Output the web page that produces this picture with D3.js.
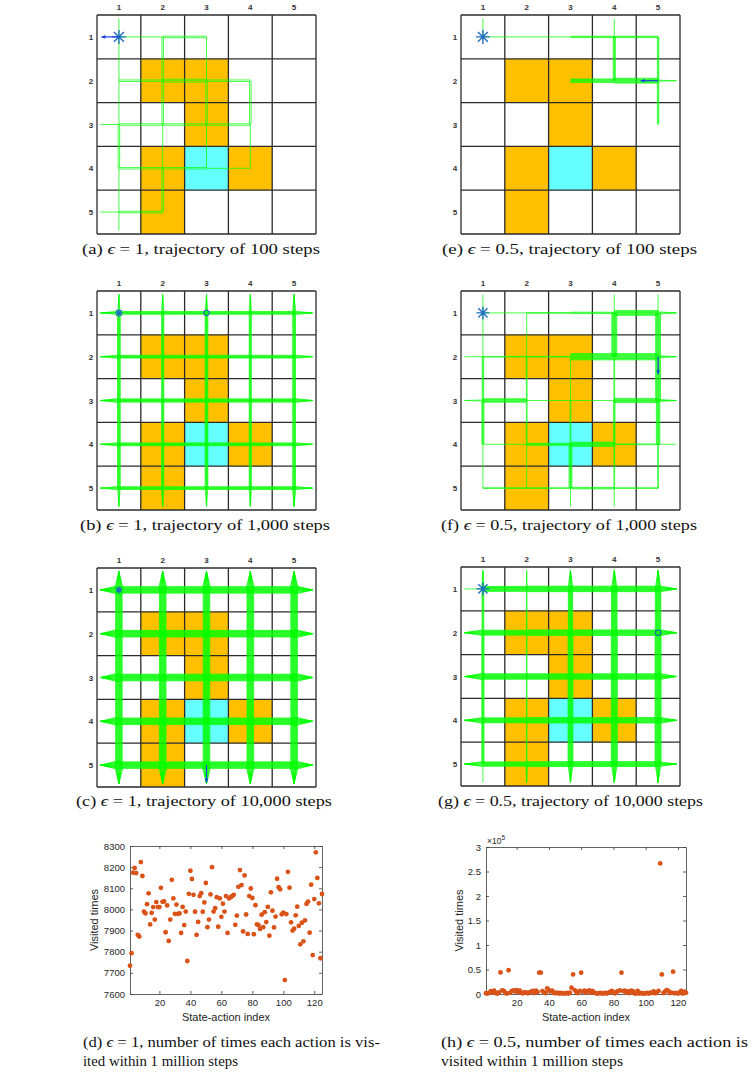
<!DOCTYPE html>
<html>
<head>
<meta charset="utf-8">
<script src="https://cdn.jsdelivr.net/npm/d3@7"></script>
<style>
  body { margin: 0; background: #fff; }
  text { font-family: "Liberation Sans", Arial, sans-serif; }
  .cap { font-family: "Liberation Serif", "DejaVu Serif", serif; font-size: 14.5px; fill: #111; }
</style>
</head>
<body>
<div id="container"></div>
<script>
// ---- grid world layout (5x5) ----
const forbidden = [[2, 2], [2, 3], [3, 3], [4, 2], [4, 4], [5, 2]];
const target = [4, 3];
const gridLabels = ['1', '2', '3', '4', '5'];

// trajectory weights (number of overlapping strokes)
// rows: [left bounce, c1-c2, c2-c3, c3-c4, c4-c5, right bounce]
// cols: [top bounce, r1-r2, r2-r3, r3-r4, r4-r5, bottom bounce]
const rowsA = [[0, 1, 2, 0, 0, 0], [0, 2, 3, 2, 0, 0], [1, 2, 2, 2, 0, 0], [0, 2, 2, 1, 0, 0], [1, 2, 0, 0, 0, 0]];
const colsA = [[1, 1, 1, 2, 1, 1], [0, 2, 2, 1, 2, 0], [0, 1, 2, 1, 0, 0], [0, 0, 2, 1, 0, 0], [0, 0, 0, 0, 0, 0]];

const rowsB = [[5, 6, 6, 6, 6, 5], [5, 6, 6, 6, 6, 5], [6, 7, 7, 7, 7, 6], [5, 6, 6, 6, 6, 5], [5, 6, 6, 6, 6, 5]];
const colsB = [[4, 6, 6, 6, 6, 4], [4, 5, 5, 5, 5, 4], [4, 6, 6, 6, 6, 4], [4, 5, 5, 5, 5, 4], [5, 6, 6, 6, 6, 5]];

const rowsC = [[12, 13, 13, 13, 13, 12], [12, 13, 13, 13, 13, 12], [12, 13, 13, 13, 13, 12], [12, 13, 13, 13, 13, 12], [12, 13, 13, 13, 13, 12]];
const colsC = [[12, 13, 13, 13, 13, 12], [12, 13, 13, 13, 13, 12], [12, 13, 13, 13, 13, 12], [12, 13, 13, 13, 13, 12], [12, 13, 13, 13, 13, 12]];

const rowsE = [[0, 1, 1, 3, 3, 0], [0, 0, 0, 6, 8, 2], [0, 0, 0, 0, 0, 0], [0, 0, 0, 0, 0, 0], [0, 0, 0, 0, 0, 0]];
const colsE = [[1, 0, 0, 0, 0, 0], [0, 0, 0, 0, 0, 0], [0, 0, 0, 0, 0, 0], [1, 4, 0, 0, 0, 0], [0, 3, 3, 0, 0, 0]];

const rowsF = [[0, 1, 2, 3, 8, 3], [1, 2, 2, 10, 10, 3], [2, 6, 1, 1, 7, 3], [0, 1, 4, 7, 2, 1], [0, 2, 2, 3, 2, 0]];
const colsF = [[1, 1, 3, 4, 1, 0], [0, 1, 2, 2, 1, 0], [0, 0, 1, 2, 5, 1], [1, 8, 2, 3, 2, 1], [1, 8, 8, 6, 2, 0]];

const rowsG = [[1, 10, 11, 11, 11, 9], [8, 10, 11, 11, 11, 9], [9, 11, 11, 11, 11, 9], [8, 10, 11, 11, 11, 9], [7, 9, 10, 10, 10, 7]];
const colsG = [[4, 4, 5, 5, 5, 1], [2, 2, 2, 2, 2, 3], [7, 9, 10, 10, 10, 7], [8, 11, 12, 12, 12, 8], [8, 11, 12, 12, 12, 8]];

// ---- visit counts, 125 state-action pairs ----
const visitsEps1 = [
  7734, 7793, 8174, 8196, 8172, 7880, 7872, 8224, 8158, 7990,
  7981, 8025, 8076, 7929, 7984, 8011, 7952, 8035, 8011, 8011,
  8102, 8036, 8038, 7892, 8019, 7851, 7952, 8140, 8052, 7979,
  8023, 7979, 7981, 7889, 8012, 7926, 7990, 7756, 8074, 8183,
  8144, 8069, 7989, 7880, 7941, 8063, 8077, 7989, 8033, 8125,
  7916, 7952, 8071, 8200, 7990, 8006, 8058, 7918, 8052, 7965,
  8027, 7990, 8063, 7889, 8052, 8058, 8063, 8069, 7927, 7971,
  8107, 8186, 8115, 7896, 8161, 7976, 7884, 8063, 8099, 8054,
  7883, 8020, 7929, 7926, 7908, 7975, 7916, 7987, 7940, 8012,
  7876, 8081, 7994, 7915, 7966, 8145, 8105, 8095, 7977, 7985,
  7666, 7978, 8178, 8103, 7939, 7900, 7909, 7972, 8013, 7922,
  7835, 7937, 7849, 7948, 8026, 8037, 7890, 8117, 7784, 8049,
  8270, 8149, 8029, 7769, 8073
];
const visitsEps05 = [
  1500, 800, 2500, 6000, 3000, 7000, 2000, 1000, 3500, 44000,
  7500, 6500, 2000, 1000, 48500, 3000, 6000, 7500, 5000, 8000,
  4000, 7000, 2500, 1500, 4000, 3000, 1500, 3500, 5000, 6500,
  2000, 7000, 4000, 43500, 43500, 6000, 3500, 2000, 11500, 8000,
  5500, 7000, 2500, 1500, 3000, 1000, 2000, 1500, 800, 1200,
  2000, 1000, 3000, 13000, 40000, 8000, 4000, 2000, 6500, 43500,
  5000, 7000, 3000, 6000, 7500, 2500, 6500, 3000, 1500, 800,
  1500, 2500, 1000, 1500, 2000, 800, 3000, 4500, 6500, 2500,
  1500, 5000, 6000, 7500, 43500, 6000, 7000, 3000, 5500, 2000,
  7000, 6000, 1500, 800, 6500, 1000, 2000, 1200, 800, 1500,
  2500, 1000, 3000, 2000, 5500, 1500, 3500, 6500, 266500, 40000,
  2000, 5000, 8000, 6500, 2000, 3000, 45500, 1500, 2500, 1000,
  3000, 6500, 1000, 5000, 2500
];
const xTicks = [20, 40, 60, 80, 100, 120];
const yTicksEps1 = [7600, 7700, 7800, 7900, 8000, 8100, 8200, 8300];
const yTicksEps05 = [0, 50000, 100000, 150000, 200000, 250000, 300000];

// ---- captions ----
const captions = [
  '(a) ϵ = 1, trajectory of 100 steps',
  '(e) ϵ = 0.5, trajectory of 100 steps',
  '(b) ϵ = 1, trajectory of 1,000 steps',
  '(f) ϵ = 0.5, trajectory of 1,000 steps',
  '(c) ϵ = 1, trajectory of 10,000 steps',
  '(g) ϵ = 0.5, trajectory of 10,000 steps',
  '(d) ϵ = 1, number of times each action is vis-',
  'ited within 1 million steps',
  '(h) ϵ = 0.5, number of times each action is',
  'visited within 1 million steps'
];
// left x, baseline y, width
const captionPos = [
  [82, 254, 238], [442, 254, 255], [80, 530, 250], [441, 530, 256],
  [76, 806, 256], [438, 806, 265], [83, 1047, 297], [83, 1066, 155],
  [441, 1047, 307], [441, 1066, 182]
];

const W = 752, H = 1073;
const CELL_SIZE = 219;
const SPIKE = 0.42;
const GREEN = '#00ff00';
const BLUE = '#1d3fe0';
const STAR = '#1f6fc0';

const svg = d3.select('#container')
  .append('svg')
  .attr('width', W)
  .attr('height', H)
  .attr('viewBox', `0 0 ${W} ${H}`);

const gridPanels = [
  { x0: 97, y0: 15, rows: rowsA, cols: colsA, sp: 1.5, star: 7, arrow: [1, 1, 'L'] },
  { x0: 461, y0: 15, rows: rowsE, cols: colsE, sp: 0.7, star: 7, arrow: [2, 5, 'L'] },
  { x0: 97, y0: 291, rows: rowsB, cols: colsB, sp: 0.55, star: 4, circle: [1, 3] },
  { x0: 461, y0: 291, rows: rowsF, cols: colsF, sp: 0.7, star: 6.5, arrow: [2, 5, 'D'] },
  { x0: 97, y0: 568, rows: rowsC, cols: colsC, sp: 0.55, star: 3.5, arrow: [5, 3, 'D'] },
  { x0: 461, y0: 567, rows: rowsG, cols: colsG, sp: 0.55, star: 6.5, circle: [2, 5] }
];

const drawGrid = p => {
  const g = svg.append('g');
  const x = d3.scaleLinear().domain([0.5, 5.5]).range([p.x0, p.x0 + CELL_SIZE]);
  const y = d3.scaleLinear().domain([0.5, 5.5]).range([p.y0, p.y0 + CELL_SIZE]);
  const cs = CELL_SIZE / 5;

  // coloured cells
  g.selectAll('rect.forb')
    .data(forbidden)
    .join('rect')
    .attr('x', d => x(d[1] - 0.5)).attr('y', d => y(d[0] - 0.5))
    .attr('width', cs).attr('height', cs)
    .attr('fill', '#ffc000');
  g.append('rect')
    .attr('x', x(target[1] - 0.5)).attr('y', y(target[0] - 0.5))
    .attr('width', cs).attr('height', cs)
    .attr('fill', '#66ffff');

  // grid lines
  const ln = d3.range(6).map(i => i + 0.5);
  g.selectAll('line.v').data(ln).join('line')
    .attr('x1', d => x(d)).attr('x2', d => x(d))
    .attr('y1', y(0.5)).attr('y2', y(5.5))
    .attr('stroke', '#2b2b2b').attr('stroke-width', 1.3);
  g.selectAll('line.h').data(ln).join('line')
    .attr('y1', d => y(d)).attr('y2', d => y(d))
    .attr('x1', x(0.5)).attr('x2', x(5.5))
    .attr('stroke', '#2b2b2b').attr('stroke-width', 1.3);

  // labels
  g.selectAll('text.col').data(gridLabels).join('text')
    .attr('x', (d, i) => x(i + 1)).attr('y', p.y0 - 5)
    .attr('text-anchor', 'middle').attr('font-size', 8).attr('font-weight', 'bold').attr('fill', '#333')
    .text(d => d);
  g.selectAll('text.row').data(gridLabels).join('text')
    .attr('x', p.x0 - 6).attr('y', (d, i) => y(i + 1) + 3)
    .attr('text-anchor', 'middle').attr('font-size', 8).attr('font-weight', 'bold').attr('fill', '#333')
    .text(d => d);

  // trajectory strokes
  const strokes = [];
  const addSeg = (a1, a2, fixed, n, spike, horiz) => {
    for (let k = 0; k < n; k++) {
      const off = (k - (n - 1) / 2) * p.sp;
      const o1 = spike ? off * 1.5 : off;
      const o2 = spike ? 0 : off;
      if (horiz) strokes.push([x(a1), y(fixed) + o1, x(a2), y(fixed) + o2]);
      else strokes.push([x(fixed) + o1, y(a1), x(fixed) + o2, y(a2)]);
    }
  };
  const span = j => j === 0 ? [1, 1 - SPIKE, true] : j === 5 ? [5, 5 + SPIKE, true] : [j, j + 1, false];
  p.rows.forEach((w, ri) => w.forEach((n, j) => {
    if (!n) return;
    const [a1, a2, sp] = span(j);
    addSeg(a1, a2, ri + 1, n, sp, true);
  }));
  p.cols.forEach((w, ci) => w.forEach((n, j) => {
    if (!n) return;
    const [a1, a2, sp] = span(j);
    addSeg(a1, a2, ci + 1, n, sp, false);
  }));
  g.append('g').selectAll('line').data(strokes).join('line')
    .attr('x1', d => d[0]).attr('y1', d => d[1])
    .attr('x2', d => d[2]).attr('y2', d => d[3])
    .attr('stroke', GREEN).attr('stroke-width', 0.9).attr('stroke-opacity', 0.8);

  // start marker (asterisk)
  const sx = x(1), sy = y(1), r = p.star;
  const d45 = r * 0.7071;
  g.append('path')
    .attr('d', `M${sx - r},${sy}L${sx + r},${sy}M${sx},${sy - r}L${sx},${sy + r}` +
      `M${sx - d45},${sy - d45}L${sx + d45},${sy + d45}M${sx - d45},${sy + d45}L${sx + d45},${sy - d45}`)
    .attr('stroke', STAR).attr('stroke-width', 1.4).attr('fill', 'none');

  if (p.circle) {
    g.append('circle')
      .attr('cx', x(p.circle[1])).attr('cy', y(p.circle[0])).attr('r', 2.8)
      .attr('fill', 'none').attr('stroke', BLUE).attr('stroke-width', 1);
  }
  if (p.arrow) {
    const [ar, ac, dir] = p.arrow;
    const x1 = x(ac), y1 = y(ar);
    const x2 = dir === 'L' ? x(ac - 0.4) : x1;
    const y2 = dir === 'D' ? y(ar + 0.4) : y1;
    g.append('line')
      .attr('x1', x1).attr('y1', y1).attr('x2', x2).attr('y2', y2)
      .attr('stroke', BLUE).attr('stroke-width', 1.2);
    const head = dir === 'L'
      ? `M${x2},${y2}L${x2 + 4},${y2 - 1.8}L${x2 + 4},${y2 + 1.8}Z`
      : `M${x2},${y2}L${x2 - 1.8},${y2 - 4}L${x2 + 1.8},${y2 - 4}Z`;
    g.append('path').attr('d', head).attr('fill', BLUE);
  }
};

gridPanels.forEach(drawGrid);

// ---- scatter plots ----
const scatterPanels = [
  { x0: 130, x1: 322, y0: 846, y1: 994, data: visitsEps1, domain: [7600, 8300], ticks: yTicksEps1, fmt: d => d, ylabX: 98, exp: false },
  { x0: 486, x1: 686, y0: 847, y1: 994, data: visitsEps05, domain: [0, 300000], ticks: yTicksEps05, fmt: d => d / 1e5, ylabX: 463, exp: true }
];

const drawScatter = p => {
  const g = svg.append('g');
  const x = d3.scaleLinear().domain([1, 125]).range([p.x0, p.x1]);
  const y = d3.scaleLinear().domain(p.domain).range([p.y1, p.y0]);
  const axisCol = '#3a3a3a';

  const styleAxis = sel => {
    sel.selectAll('path').attr('stroke', axisCol).attr('stroke-width', 0.8);
    sel.selectAll('line').attr('stroke', axisCol).attr('stroke-width', 0.8);
    sel.selectAll('text').attr('fill', '#262626').attr('font-size', 9.5)
      .attr('font-family', '"Liberation Sans", Arial, sans-serif');
  };

  g.append('g').attr('transform', `translate(0,${p.y1})`)
    .call(d3.axisBottom(x).tickValues(xTicks).tickSizeInner(-3).tickSizeOuter(0).tickPadding(5))
    .call(styleAxis);
  g.append('g').attr('transform', `translate(0,${p.y0})`)
    .call(d3.axisTop(x).tickValues(xTicks).tickSizeInner(-3).tickSizeOuter(0).tickFormat(''))
    .call(styleAxis);
  g.append('g').attr('transform', `translate(${p.x0},0)`)
    .call(d3.axisLeft(y).tickValues(p.ticks).tickSizeInner(-3).tickSizeOuter(0).tickPadding(5).tickFormat(p.fmt))
    .call(styleAxis);
  g.append('g').attr('transform', `translate(${p.x1},0)`)
    .call(d3.axisRight(y).tickValues(p.ticks).tickSizeInner(-3).tickSizeOuter(0).tickFormat(''))
    .call(styleAxis);

  g.selectAll('circle').data(p.data).join('circle')
    .attr('cx', (d, i) => x(i + 1)).attr('cy', d => y(d)).attr('r', 2.4)
    .attr('fill', '#d95319');

  g.append('text')
    .attr('transform', `translate(${p.ylabX},${(p.y0 + p.y1) / 2}) rotate(-90)`)
    .attr('text-anchor', 'middle').attr('font-size', 11).attr('fill', '#262626')
    .text('Visited times');
  g.append('text')
    .attr('x', (p.x0 + p.x1) / 2).attr('y', p.y1 + 27)
    .attr('text-anchor', 'middle').attr('font-size', 11).attr('fill', '#262626')
    .text('State-action index');

  if (p.exp) {
    const t = g.append('text').attr('x', p.x0 + 1).attr('y', p.y0 - 3)
      .attr('font-size', 8.5).attr('fill', '#262626');
    t.append('tspan').text('×10');
    t.append('tspan').attr('font-size', 6.5).attr('dy', -4).text('5');
  }
};

scatterPanels.forEach(drawScatter);

// ---- captions ----
captions.forEach((s, i) => {
  const [cx, cy, cw] = captionPos[i];
  const t = svg.append('text').attr('class', 'cap')
    .attr('x', cx).attr('y', cy)
    .attr('textLength', cw).attr('lengthAdjust', 'spacingAndGlyphs');
  const parts = s.split('ϵ');
  parts.forEach((part, k) => {
    if (k > 0) t.append('tspan').attr('font-style', 'italic').text('ϵ');
    t.append('tspan').text(part);
  });
});
</script>
</body>
</html>
